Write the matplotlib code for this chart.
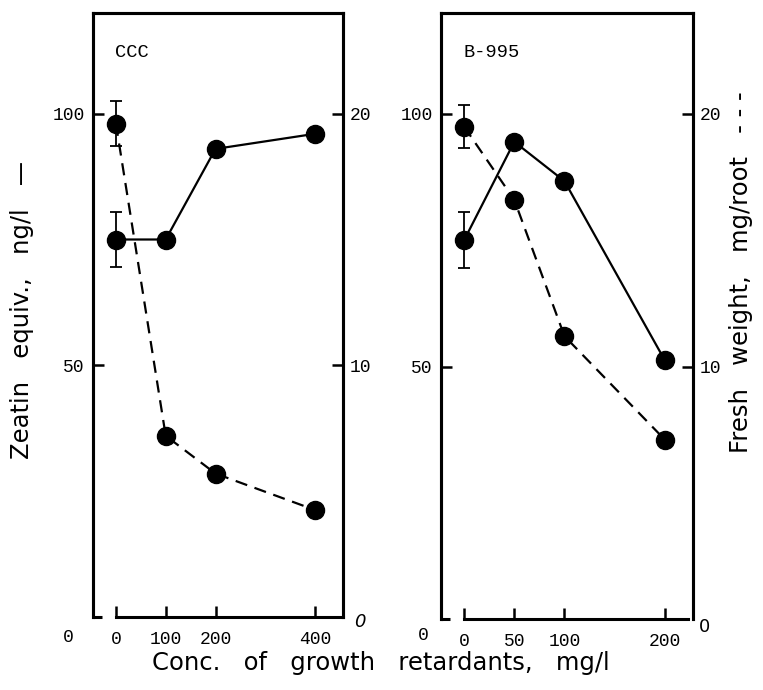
import matplotlib
matplotlib.use('Agg')
import matplotlib.pyplot as plt

# CCC panel
ccc_conc = [0, 100, 200, 400]
ccc_zeatin = [75, 75, 93, 96]
ccc_zeatin_err = [5.5, 0, 0, 0]
ccc_fresh = [19.6, 7.2, 5.7, 4.25]
ccc_fresh_err = [0.9, 0, 0, 0]
ccc_ticks = [0, 100, 200, 400]

# B-995 panel
b995_conc = [0, 50, 100, 200]
b995_zeatin = [75, 94.5, 86.7, 51.2]
b995_zeatin_err = [5.5, 0, 0, 0]
b995_fresh = [19.5, 16.6, 11.2, 7.1]
b995_fresh_err = [0.85, 0, 0, 0]
b995_ticks = [0, 50, 100, 200]

mono = 'Liberation Mono'
W, H = 763, 690


def panel(rect, conc, zeatin, zerr, fresh, ferr, ticks, xlim, xend, title):
    ax = fig.add_axes(rect)
    ax2 = ax.twinx()
    ax.set_xlim(*xlim)
    ax.set_ylim(0, 120)
    ax2.set_ylim(0, 24)

    ax.plot(conc, zeatin, color='k', lw=1.6, marker='o', ms=13, zorder=3)
    ax.errorbar(conc[:1], zeatin[:1], yerr=zerr[:1], fmt='none', ecolor='k',
                capsize=4, elinewidth=1.3, capthick=1.3, zorder=2)
    ax2.plot(conc, fresh, color='k', lw=1.6, ls=(0, (5.5, 3.5)),
             marker='o', ms=13, zorder=3)
    ax2.errorbar(conc[:1], fresh[:1], yerr=ferr[:1], fmt='none', ecolor='k',
                 capsize=4, elinewidth=1.3, capthick=1.3, zorder=2)

    for a in (ax, ax2):
        for s in a.spines.values():
            s.set_linewidth(2.2)
        a.spines['bottom'].set_visible(False)
    ax.spines['bottom'].set_visible(True)
    ax.spines['bottom'].set_bounds(0, xend)
    ax.plot([0, 0.036], [0, 0], transform=ax.transAxes, color='k',
            lw=2.2, clip_on=False, solid_capstyle='butt')

    ax.set_xticks(ticks)
    ax.set_yticks([50, 100])
    ax2.set_yticks([10, 20])
    ax.tick_params(axis='both', direction='in', length=8, width=1.8,
                   labelsize=13)
    ax.tick_params(axis='x', pad=10)
    ax.tick_params(axis='y', pad=6)
    ax2.tick_params(axis='y', direction='in', length=8, width=1.8,
                    labelsize=13, pad=5)
    for lab in ax.get_xticklabels() + ax.get_yticklabels() + ax2.get_yticklabels():
        lab.set_fontfamily(mono)

    ax.text(0.09, 0.935, title, transform=ax.transAxes, fontsize=13.5,
            fontfamily=mono, va='center', ha='left')
    return ax, ax2


fig = plt.figure(figsize=(W / 100, H / 100), dpi=100)

axl, axl2 = panel([93 / W, 1 - 617 / H, 250 / W, 604 / H],
                  ccc_conc, ccc_zeatin, ccc_zeatin_err, ccc_fresh, ccc_fresh_err,
                  ccc_ticks, (-46, 456), 456, 'CCC')
axr, axr2 = panel([441 / W, 1 - 619 / H, 252 / W, 606 / H],
                  b995_conc, b995_zeatin, b995_zeatin_err, b995_fresh, b995_fresh_err,
                  b995_ticks, (-23, 228), 223, 'B-995')

# stray zero labels
fig.text(68 / W, 1 - 637 / H, '0', fontsize=13, fontfamily=mono, ha='center', va='center')
fig.text(360 / W, 1 - 622 / H, '0', fontsize=13, style='italic', ha='center', va='center')
fig.text(423 / W, 1 - 635 / H, '0', fontsize=13, fontfamily=mono, ha='center', va='center')
fig.text(704 / W, 1 - 627 / H, '0', fontsize=13, ha='center', va='center')

fig.text(22 / W, 1 - 310 / H, 'Zeatin   equiv.,   ng/l   \u2014', rotation=90,
         fontsize=17.5, ha='center', va='center')
fig.text(741 / W, 1 - 272 / H, 'Fresh   weight,   mg/root   - - -', rotation=90,
         fontsize=17.5, ha='center', va='center')
fig.text(381 / W, 1 - 663 / H, 'Conc.   of   growth   retardants,   mg/l',
         fontsize=17.5, ha='center', va='center')

fig.savefig('out.png', dpi=100)
